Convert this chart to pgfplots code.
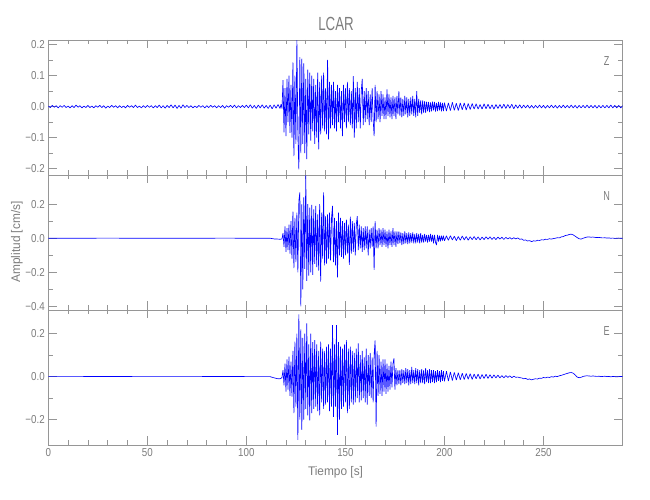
\documentclass[border=0pt]{standalone}
\usepackage{fontspec}
\setmainfont{Liberation Sans}[FakeStretch=0.85]
\newfontfamily\labelfont{Liberation Sans}[FakeStretch=0.95]
\newfontfamily\titlefont{Liberation Sans}[FakeStretch=0.7]
\usepackage{pgfplots}
\pgfplotsset{compat=1.18}
\definecolor{axgray}{RGB}{150,150,150}
\definecolor{txtgray}{RGB}{125,125,125}
\definecolor{seisblue}{RGB}{0,0,255}
\pgfplotsset{seis/.style={
  scale only axis, width=574.4pt, height=135pt, anchor=south west,
  xmin=0, xmax=290, xtick={0,50,100,150,200,250},
  minor x tick num=4, minor y tick num=1,
  tick align=inside, tick pos=both,
  major tick length=8.5pt, minor tick length=4.5pt,
  axis line style={draw=axgray, line width=0.8pt},
  tick style={draw=axgray, line width=0.6pt},
  tick label style={text=txtgray, font=\fontsize{11.5}{13}\selectfont},
  no markers,
  cycle list={{color=seisblue, mark=none}},
}}
\tikzset{seisline/.style={draw=seisblue, line width=0.65pt, line join=bevel}}
\begin{document}
\begin{tikzpicture}
\path[use as bounding box] (0pt,0pt) rectangle (650pt,500pt);
% ---------------- Z ----------------
\begin{axis}[seis, at={(48.3pt,325pt)}, ymin=-0.221, ymax=0.2155,
  ytick={-0.2,-0.1,0,0.1,0.2}, yticklabels={−0.2,−0.1,0.0,0.1,0.2},
  xticklabel=\empty]
\addplot[seisline] coordinates {
(0,0.002)(1,-0.003)(2,0.004)(3,-0.002)(4,0.003)(5,-0.004)(6,0.003)(7,-0.002)(8,0.004)(9,-0.003)
(10,0.002)(11,-0.004)(12,0.003)(13,-0.003)(14,0.005)(15,-0.002)(16,0.003)(17,-0.004)(18,0.002)(19,-0.003)
(20,0.004)(21,-0.003)(22,0.002)(23,-0.004)(24,0.003)(25,-0.002)(26,0.004)(27,-0.003)(28,0.003)(29,-0.005)
(30,0.002)(31,-0.003)(32,0.004)(33,-0.002)(34,0.003)(35,-0.004)(36,0.003)(37,-0.003)(38,0.002)(39,-0.004)
(40,0.004)(41,-0.002)(42,0.003)(43,-0.003)(44,0.005)(45,-0.003)(46,0.002)(47,-0.004)(48,0.003)(49,-0.003)
(50,0.004)(51,-0.002)(52,0.003)(53,-0.004)(54,0.003)(55,-0.003)(56,0.005)(57,-0.004)(58,0.003)(59,-0.005)
(60,0.004)(61,-0.003)(62,0.006)(63,-0.004)(64,0.005)(65,-0.006)(66,0.004)(67,-0.005)(68,0.006)(69,-0.003)
(70,0.004)(71,-0.003)(72,0.003)(73,-0.004)(74,0.002)(75,-0.003)(76,0.004)(77,-0.002)(78,0.003)(79,-0.004)
(80,0.003)(81,-0.003)(82,0.004)(83,-0.002)(84,0.003)(85,-0.004)(86,0.003)(87,-0.003)(88,0.004)(89,-0.005)
(90,0.003)(91,-0.002)(92,0.004)(93,-0.003)(94,0.005)(95,-0.004)(96,0.003)(97,-0.003)(98,0.004)(99,-0.003)
(100,0.005)(101,-0.004)(102,0.006)(103,-0.005)(104,0.004)(105,-0.006)(106,0.005)(107,-0.004)(108,0.006)(109,-0.005)
(110,0.004)(111,-0.006)(112,0.005)(113,-0.007)(114,0.006)(115,-0.005)(116,0.007)(117,-0.006)(117.5,0.008)(118,-0.006)
(118.5,0.086)(119,-0.083)(119.5,0.06)(120,-0.095)(120.5,0.09)(121,-0.05)(121.5,0.1)(122,-0.085)(122.5,0.07)(123,-0.1)
(123.5,0.143)(124,-0.16)(124.5,0.1)(125,-0.12)(125.5,0.215)(126,-0.09)(126.5,-0.203)(127,0.16)(127.5,-0.15)(128,0.155)
(128.5,-0.12)(129,0.14)(129.5,-0.15)(130,0.09)(130.5,-0.17)(131,0.12)(131.5,-0.09)(132,0.11)(132.5,-0.11)(133,0.1)
(133.5,-0.08)(134,0.09)(134.5,-0.12)(135,0.07)(135.5,-0.1)(136,0.11)(136.5,-0.138)(137,0.08)(137.5,-0.09)(138,0.1)
(138.5,-0.07)(139,0.11)(139.5,-0.08)(140,0.06)(140.5,-0.09)(141,0.151)(141.5,-0.106)(142,0.08)(142.5,-0.07)(143,0.07)
(143.5,-0.06)(144,0.08)(144.5,-0.07)(145,0.05)(145.5,-0.08)(146,0.07)(146.5,-0.05)(147,0.06)(147.5,-0.07)(148,0.05)
(148.5,-0.095)(149,0.07)(149.5,-0.05)(150,0.06)(150.5,-0.07)(151,0.08)(151.5,-0.05)(152,0.06)(152.5,-0.06)(153,0.05)
(153.5,-0.07)(154,0.099)(154.5,-0.1)(155,0.06)(155.5,-0.07)(156,0.08)(156.5,-0.05)(157,0.06)(157.5,-0.07)(158,0.05)
(158.5,0.09)(159,-0.06)(159.5,0.05)(160,-0.05)(160.5,0.06)(161,-0.04)(161.5,0.05)(162,-0.06)(162.5,0.04)(163,-0.05)
(163.5,0.06)(164,-0.04)(164.5,-0.095)(165,0.07)(165.5,-0.05)(166,0.05)(166.5,-0.04)(167,0.04)(167.5,-0.05)(168,0.05)
(168.5,-0.03)(169,0.04)(169.5,-0.04)(170,0.03)(170.5,-0.04)(171,0.056)(171.5,-0.03)(172,0.04)(172.5,-0.035)(173,0.03)
(173.5,-0.04)(174,0.035)(174.5,-0.03)(175,0.03)(175.5,-0.04)(176,0.035)(176.5,-0.025)(177,0.05)(177.5,-0.03)(178,0.03)
(178.5,-0.035)(179,0.025)(179.5,-0.03)(180,0.035)(180.5,-0.025)(181,0.03)(181.5,-0.035)(182,0.025)(182.5,-0.03)(183,0.03)
(183.5,-0.025)(184,0.035)(184.5,-0.03)(185,0.025)(185.5,-0.035)(186,0.05)(186.5,-0.03)(187,0.025)(187.5,-0.02)(188,0.02)
(188.5,-0.025)(189,0.02)(189.5,-0.02)(190,0.018)(190.5,-0.02)(191,0.016)(191.5,-0.015)(192,0.015)(192.5,-0.018)(193,0.014)
(193.5,-0.015)(194,0.016)(194.5,-0.012)(195,0.015)(195.5,-0.016)(196,0.012)(196.5,-0.014)(197,0.015)(197.5,-0.012)(198,0.014)
(198.5,-0.015)(199,0.012)(199.5,-0.014)(200,0.013)
(201,-0.014)(202,0.012)(203,-0.013)(204,0.014)(205,-0.012)(206,0.011)(207,-0.013)(208,0.012)(209,-0.01)(210,0.012)
(211,-0.011)(212,0.01)(213,-0.009)(214,0.01)(215,-0.008)(216,0.009)(217,-0.008)(218,0.007)(219,-0.008)(220,0.009)
(221,-0.007)(222,0.008)(223,-0.007)(224,0.006)(225,-0.008)(226,0.007)(227,-0.006)(228,0.007)(229,-0.006)(230,0.008)
(231,-0.006)(232,0.007)(233,-0.005)(234,0.008)(235,-0.007)(236,0.006)(237,-0.005)(238,0.006)(239,-0.005)(240,0.005)
(241,-0.004)(242,0.005)(243,-0.005)(244,0.004)(245,-0.005)(246,0.004)(247,-0.004)(248,0.005)(249,-0.004)(250,0.004)
(251,-0.005)(252,0.004)(253,-0.004)(254,0.005)(255,-0.004)(256,0.004)(257,-0.005)(258,0.004)(259,-0.004)(260,0.005)
(261,-0.004)(262,0.004)(263,-0.004)(264,0.005)(265,-0.004)(266,0.004)(267,-0.005)(268,0.004)(269,-0.004)(270,0.004)
(271,-0.004)(272,0.005)(273,-0.004)(274,0.004)(275,-0.004)(276,0.004)(277,-0.005)(278,0.004)(279,-0.004)(280,0.004)
(281,-0.004)(282,0.004)(283,-0.004)(284,0.005)(285,-0.004)(286,0.004)(287,-0.004)(288,0.004)(289,-0.004)(290,0.003)
};
\node[text=txtgray, font=\titlefont\fontsize{13}{15}\selectfont] at (rel axis cs:0.972,0.844) {Z};
\end{axis}
% ---------------- N ----------------
\begin{axis}[seis, at={(48.3pt,190pt)}, ymin=-0.422, ymax=0.372,
  ytick={-0.4,-0.2,0,0.2}, yticklabels={−0.4,−0.2,0.0,0.2},
  xticklabel=\empty]
\addplot[seisline] coordinates {
(0,0)(30,0.0005)(60,0)(90,0.0005)(112,0)(113,-0.002)(114,-0.004)(116,-0.005)(117,-0.006)(118,-0.004)
(118.5,0.03)(119,-0.05)(119.5,0.07)(120,-0.08)(120.5,0.06)(121,-0.07)(121.5,0.08)(122,-0.09)(122.5,0.1)(123,-0.12)
(123.5,0.157)(124,-0.175)(124.5,0.12)(125,-0.14)(125.5,0.15)(126,-0.2)(126.5,0.22)(127,0.27)(127.5,-0.40)(128,0.2)
(128.5,-0.3)(129,0.24)(129.5,-0.18)(130,0.37)(130.5,-0.25)(131,0.2)(131.5,-0.22)(132,0.18)(132.5,-0.2)(133,0.196)
(133.5,-0.216)(134,0.17)(134.5,-0.15)(135,0.19)(135.5,-0.17)(136,0.14)(136.5,-0.19)(137,0.2)(137.5,-0.255)(138,0.15)
(138.5,-0.12)(139,0.27)(139.5,-0.16)(140,0.13)(140.5,-0.15)(141,0.14)(141.5,-0.12)(142,0.15)(142.5,-0.13)(143,0.12)
(143.5,0.19)(144,-0.14)(144.5,0.12)(145,-0.16)(145.5,0.1)(146,-0.23)(146.5,0.15)(147,-0.1)(147.5,0.12)(148,-0.11)
(148.5,0.1)(149,-0.12)(149.5,0.09)(150,-0.1)(150.5,0.11)(151,-0.09)(151.5,0.08)(152,-0.157)(152.5,0.127)(153,-0.09)
(153.5,0.1)(154,-0.08)(154.5,0.09)(155,-0.1)(155.5,0.08)(156,0.13)(156.5,-0.07)(157,0.08)(157.5,-0.06)(158,0.07)
(158.5,-0.08)(159,0.06)(159.5,-0.07)(160,0.07)(160.5,-0.06)(161,0.07)(161.5,-0.1)(162,0.05)(162.5,-0.06)(163,0.06)
(163.5,-0.05)(164,0.07)(164.5,-0.186)(165,0.1)(165.5,-0.06)(166,0.05)(166.5,-0.06)(167,0.06)(167.5,-0.04)(168,0.05)
(168.5,-0.05)(169,0.06)(169.5,-0.04)(170,0.05)(170.5,-0.05)(171,0.04)(171.5,-0.06)(172,0.05)(172.5,-0.04)(173,0.04)
(173.5,-0.05)(174,0.06)(174.5,-0.04)(175,0.04)(175.5,-0.05)(176,0.04)(176.5,-0.035)(177,0.04)(177.5,-0.03)(178,0.035)
(178.5,-0.04)(179,0.03)(179.5,-0.035)(180,0.04)(180.5,-0.03)(181,0.03)(181.5,-0.035)(182,0.035)(182.5,-0.03)(183,0.03)
(183.5,-0.025)(184,0.035)(184.5,-0.03)(185,0.025)(185.5,-0.03)(186,0.03)(186.5,-0.025)(187,0.025)(187.5,-0.03)(188,0.03)
(188.5,-0.025)(189,0.02)(189.5,-0.025)(190,0.025)(190.5,-0.02)(191,0.02)(191.5,-0.025)(192,0.02)(192.5,-0.02)(193,0.025)
(193.5,-0.02)(194,0.02)(194.5,-0.03)(195,0.02)(195.5,-0.025)(196,-0.04)(196.5,0.02)(197,-0.02)(197.5,0.015)(198,-0.018)
(198.5,0.015)(199,-0.014)(199.5,0.015)(200,-0.015)
(201,0.014)(202,-0.012)(203,0.015)(204,-0.01)(205,0.012)(206,-0.014)(207,0.01)(208,-0.012)(209,0.013)(210,-0.01)
(211,0.01)(212,-0.012)(213,0.009)(214,-0.008)(215,0.01)(216,-0.009)(217,0.008)(218,-0.01)(219,0.007)(220,-0.008)
(221,0.009)(222,-0.006)(223,0.008)(224,-0.007)(225,0.006)(226,-0.008)(227,0.007)(228,-0.005)(229,0.006)(230,-0.007)
(231,0.005)(232,-0.004)(233,0.004)(234,-0.005)(235,0.003)(236,-0.004)(237,0.002)(238,-0.006)(239,-0.004)(240,-0.012)
(241,-0.01)(242,-0.016)(243,-0.014)(244,-0.02)(245,-0.015)(246,-0.017)(247,-0.012)(248,-0.013)(249,-0.009)(250,-0.01)
(251,-0.006)(252,-0.007)(253,-0.003)(254,-0.005)(255,-0.002)(256,0.0)(257,0.003)(258,0.002)(259,0.008)(260,0.01)
(261,0.016)(262,0.018)(263,0.022)(264,0.024)(265,0.02)(266,0.012)(267,0.004)(268,-0.003)(269,-0.005)(270,0.0)
(271,0.004)(272,0.007)(273,0.008)(274,0.006)(275,0.007)(276,0.005)(277,0.004)(278,0.005)(279,0.003)(280,0.002)
(281,0.003)(282,0.001)(283,0.002)(284,0.0)(285,0.001)(286,-0.001)(287,0.0)(288,0.001)(289,0.0)(290,0.0)
};
\node[text=txtgray, font=\titlefont\fontsize{13}{15}\selectfont] at (rel axis cs:0.972,0.844) {N};
\end{axis}
% ---------------- E ----------------
\begin{axis}[seis, at={(48.3pt,55pt)}, ymin=-0.318, ymax=0.310,
  ytick={-0.2,0,0.2}, yticklabels={−0.2,0.0,0.2},
  xticklabels={0,50,100,150,200,250}]
\addplot[seisline] coordinates {
(0,0)(30,0.0005)(60,0)(90,0.0005)(112,0)(113,-0.003)(115,-0.008)(116,-0.01)(117,-0.01)(117.5,-0.008)(118,-0.003)
(118.5,0.03)(119,-0.04)(119.5,0.06)(120,-0.07)(120.5,0.08)(121,-0.06)(121.5,0.093)(122,-0.09)(122.5,0.07)(123,-0.093)
(123.5,0.12)(124,-0.17)(124.5,0.163)(125,-0.14)(125.5,0.2)(126,-0.294)(126.5,0.29)(127,-0.2)(127.5,0.22)(128,-0.248)
(128.5,0.18)(129,-0.2)(129.5,0.2)(130,-0.15)(130.5,0.248)(131,-0.18)(131.5,0.15)(132,-0.204)(132.5,0.2)(133,-0.17)
(133.5,0.16)(134,-0.15)(134.5,0.17)(135,-0.14)(135.5,0.15)(136,-0.16)(136.5,0.12)(137,-0.18)(137.5,0.163)(138,-0.12)
(138.5,0.13)(139,-0.15)(139.5,0.12)(140,-0.13)(140.5,0.14)(141,-0.12)(141.5,0.15)(142,-0.16)(142.5,0.13)(143,-0.14)
(143.5,0.24)(144,-0.187)(144.5,0.15)(145,-0.14)(145.5,0.24)(146,-0.271)(146.5,0.16)(147,-0.2)(147.5,0.14)(148,-0.15)
(148.5,0.13)(149,-0.14)(149.5,0.15)(150,-0.12)(150.5,0.17)(151,-0.17)(151.5,0.13)(152,-0.15)(152.5,0.14)(153,-0.12)
(153.5,0.12)(154,-0.13)(154.5,0.11)(155,-0.12)(155.5,0.13)(156,-0.1)(156.5,0.155)(157,-0.12)(157.5,0.1)(158,-0.11)
(158.5,0.12)(159,-0.1)(159.5,0.09)(160,-0.12)(160.5,0.13)(161,-0.13)(161.5,0.1)(162,-0.09)(162.5,0.11)(163,-0.1)
(163.5,0.09)(164,-0.12)(164.5,0.1)(165,0.169)(165.5,-0.233)(166,0.12)(166.5,-0.09)(167,0.1)(167.5,-0.08)(168,0.07)
(168.5,-0.09)(169,0.08)(169.5,-0.07)(170,0.08)(170.5,-0.08)(171,0.06)(171.5,-0.07)(172,0.05)(172.5,-0.06)(173,0.07)
(173.5,-0.05)(174,0.06)(174.5,0.085)(175,-0.06)(175.5,0.04)(176,-0.04)(176.5,0.03)(177,-0.035)(177.5,0.03)(178,-0.04)
(178.5,0.035)(179,-0.03)(179.5,0.03)(180,-0.035)(180.5,0.04)(181,-0.03)(181.5,0.035)(182,-0.04)(182.5,0.03)(183,-0.035)
(183.5,0.045)(184,-0.03)(184.5,0.03)(185,-0.035)(185.5,0.04)(186,-0.03)(186.5,0.035)(187,-0.04)(187.5,0.03)(188,-0.03)
(188.5,0.035)(189,-0.03)(189.5,0.03)(190,-0.035)(190.5,0.04)(191,-0.025)(191.5,0.03)(192,-0.03)(192.5,0.035)(193,-0.03)
(193.5,0.03)(194,-0.025)(194.5,0.03)(195,-0.03)(195.5,0.025)(196,-0.025)(196.5,0.03)(197,-0.02)(197.5,0.025)(198,-0.025)
(198.5,0.03)(199,-0.02)(199.5,0.025)(200,-0.022)
(201,0.025)(202,-0.02)(203,0.022)(204,-0.018)(205,0.02)(206,-0.016)(207,0.018)(208,-0.015)(209,0.016)(210,-0.014)
(211,0.015)(212,-0.012)(213,0.014)(214,-0.013)(215,0.012)(216,-0.01)(217,0.012)(218,-0.011)(219,0.01)(220,-0.009)
(221,0.011)(222,-0.008)(223,0.009)(224,-0.007)(225,0.008)(226,-0.006)(227,0.007)(228,-0.006)(229,0.005)(230,-0.006)
(231,0.005)(232,-0.004)(233,0.004)(234,-0.005)(235,0.002)(236,-0.003)(237,-0.002)(238,-0.005)(239,-0.006)(240,-0.01)
(241,-0.008)(242,-0.013)(243,-0.011)(244,-0.015)(245,-0.012)(246,-0.01)(247,-0.011)(248,-0.007)(249,-0.008)(250,-0.004)
(251,-0.006)(252,-0.002)(253,-0.004)(254,0.0)(255,-0.002)(256,0.002)(257,0.0)(258,0.004)(259,0.006)(260,0.009)
(261,0.012)(262,0.015)(263,0.018)(264,0.019)(265,0.016)(266,0.008)(267,-0.002)(268,-0.005)(269,-0.003)(270,0.001)
(271,0.003)(272,0.004)(273,0.003)(274,0.002)(275,0.003)(276,0.002)(277,0.001)(278,0.002)(279,0.0)(280,0.001)
(281,0.002)(282,0.0)(283,0.001)(284,-0.001)(285,0.001)(286,0.0)(287,-0.001)(288,0.0)(289,0.001)(290,0.0)
};
\node[text=txtgray, font=\titlefont\fontsize{13}{15}\selectfont] at (rel axis cs:0.972,0.844) {E};
\end{axis}
% titles and labels
\node[anchor=base, text=txtgray, font=\titlefont\fontsize{19}{22}\selectfont] at (336pt,469.3pt) {LCAR};
\node[anchor=base, text=txtgray, font=\labelfont\fontsize{12.5}{15}\selectfont] at (335.5pt,24pt) {Tiempo [s]};
\node[anchor=base, rotate=90, text=txtgray, font=\labelfont\fontsize{12.5}{15}\selectfont] at (20pt,258pt) {Amplitud [cm/s]};
\end{tikzpicture}
\end{document}
